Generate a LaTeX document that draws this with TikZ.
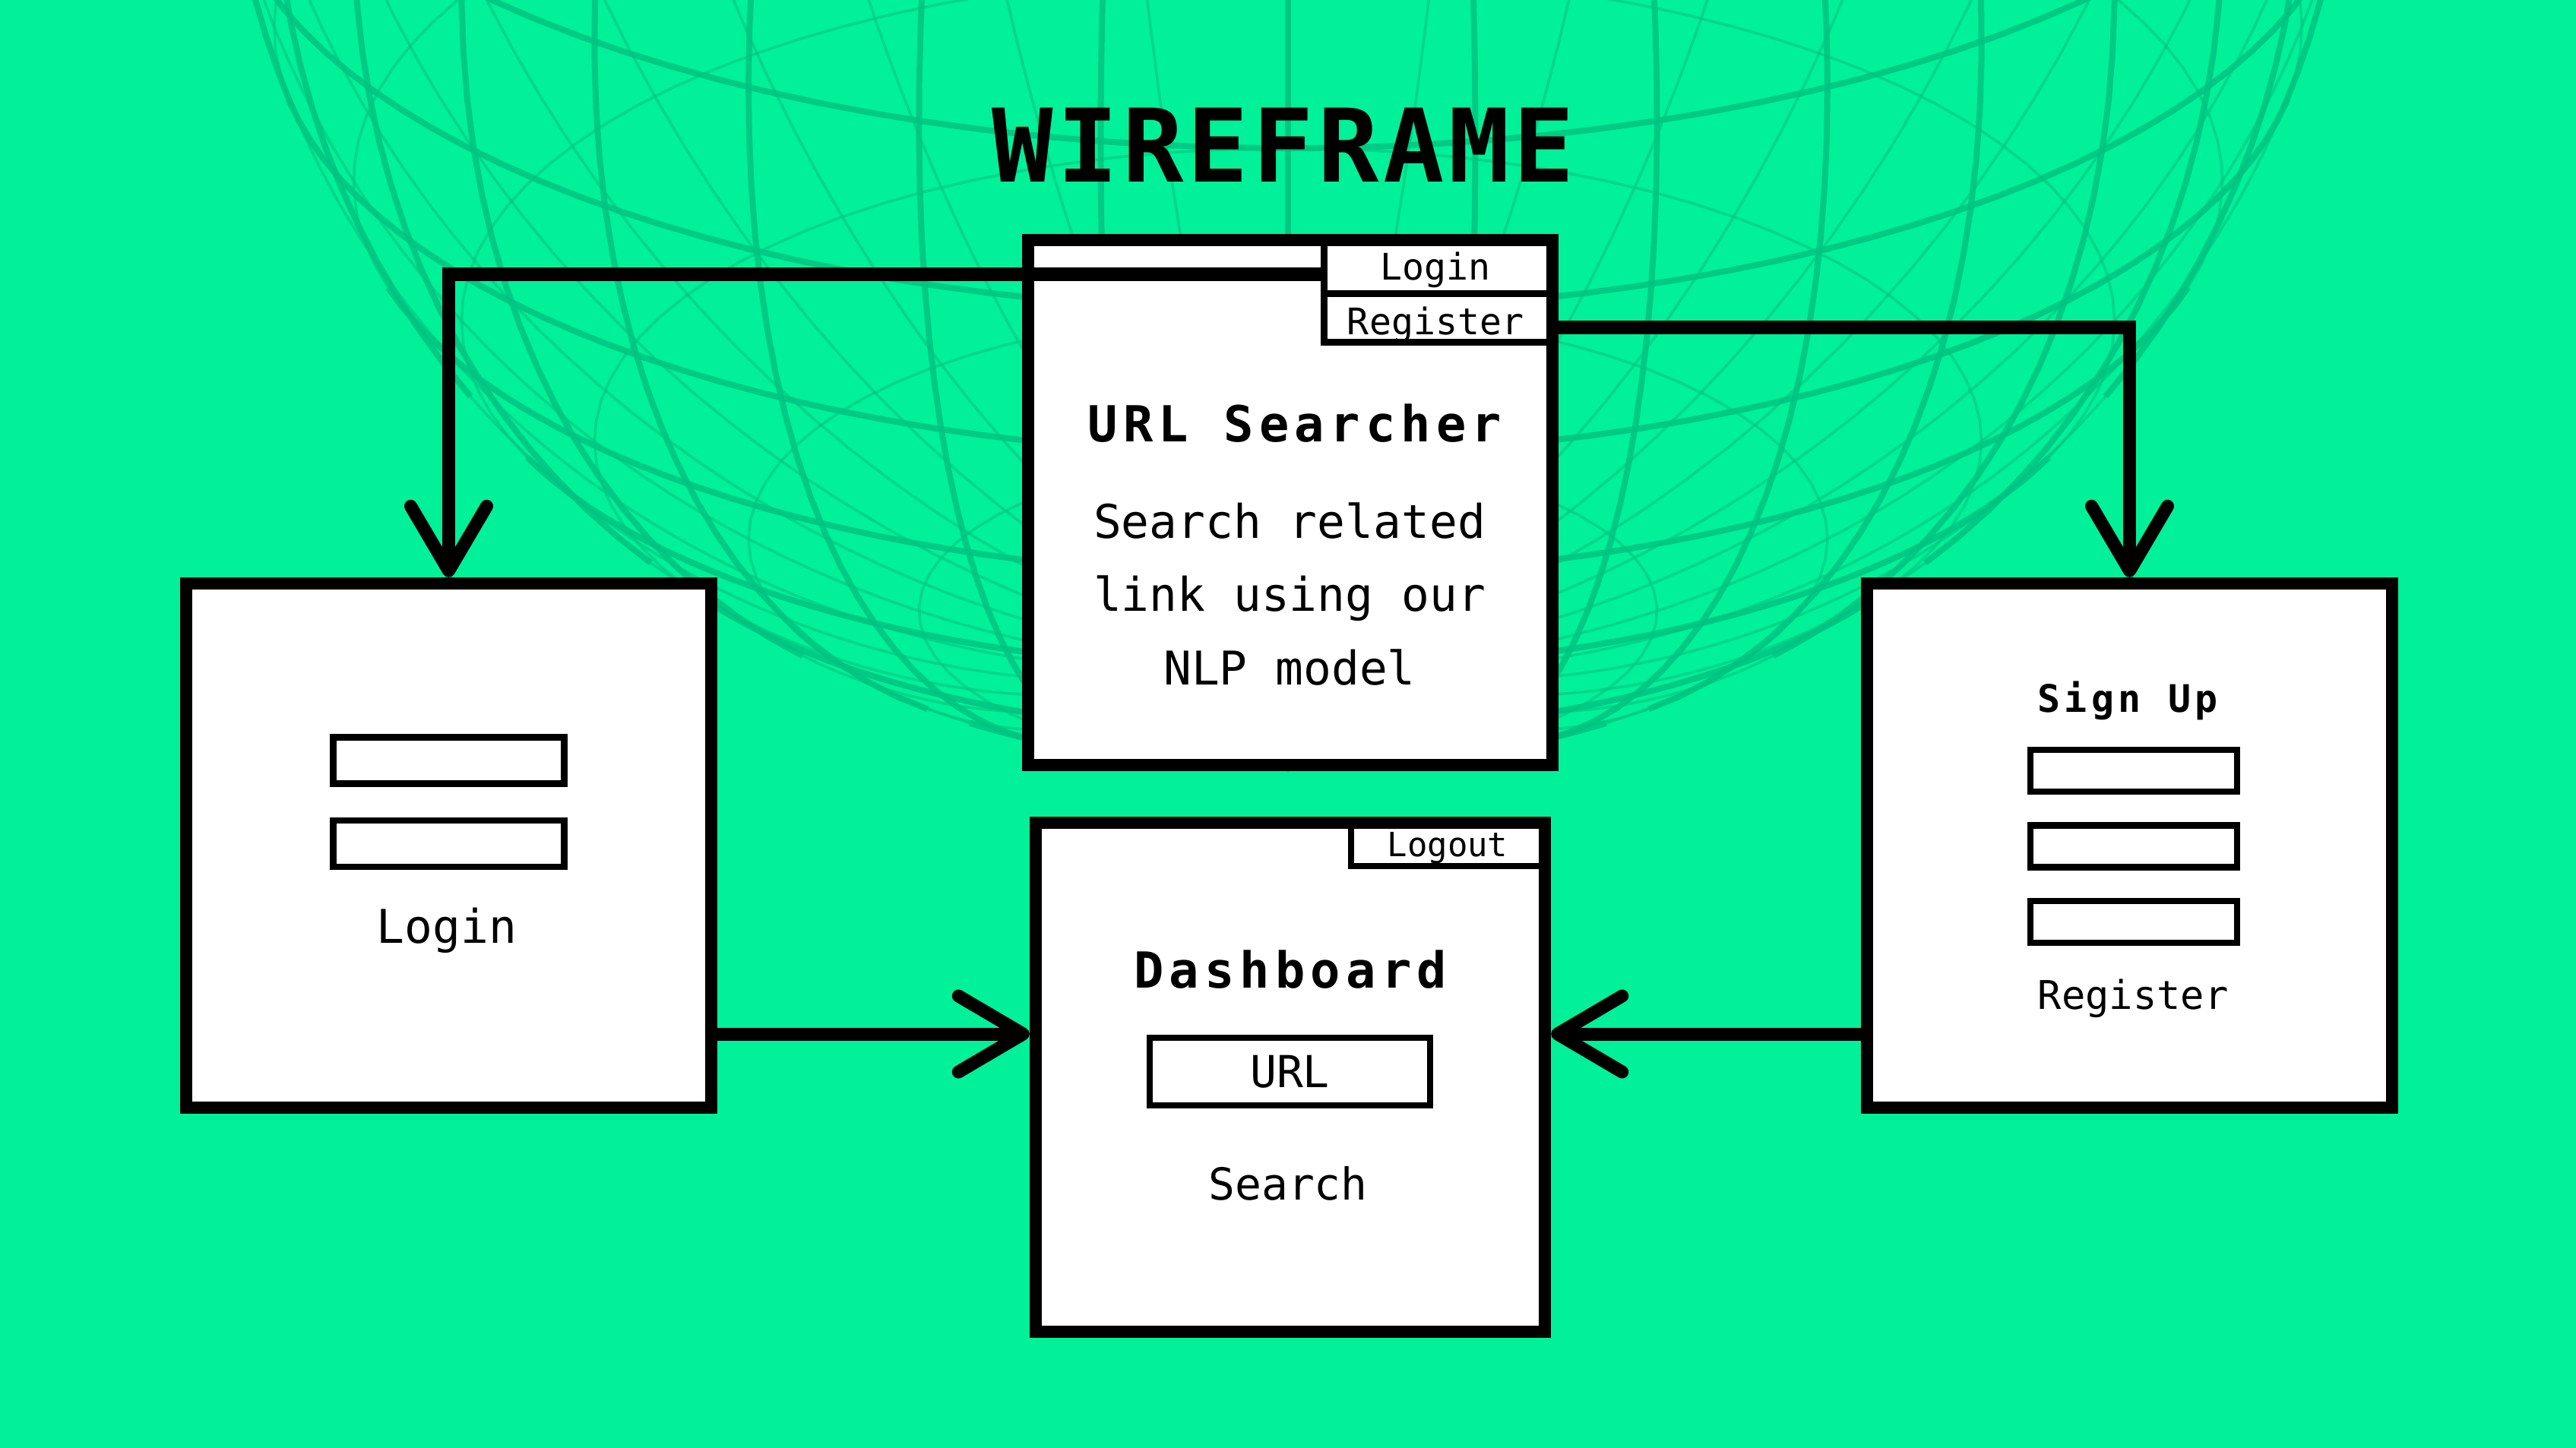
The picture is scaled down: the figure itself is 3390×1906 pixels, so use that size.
\documentclass[tikz,border=0pt]{standalone}
\usepackage{fontspec}
\setmonofont{DejaVu Sans Mono}
\newfontfamily\headfont{DejaVu Sans Mono}[LetterSpace=11]
\newfontfamily\bannerfont{DejaVu Sans Mono}[LetterSpace=4]
\usetikzlibrary{positioning, arrows.meta}
\definecolor{mint}{RGB}{0,241,153}
\definecolor{gridmint}{RGB}{0,196,128}

\begin{document}
\begin{tikzpicture}[x=0.01cm, y=-0.01cm,
    page/.style = {draw, fill=white, line width=0.16cm, inner sep=0pt, minimum width=6.9cm, minimum height=6.9cm},
    tab/.style = {draw, line width=0.09cm, inner sep=0pt},
    field/.style = {draw, fill=white, line width=0.085cm, inner sep=0pt},
    flow/.style = {line width=0.17cm, -{Straight Barb[length=0.85cm, width=1cm, round]}},
    gridfront/.style = {gridmint, line width=0.08cm, opacity=0.85},
    gridback/.style = {gridmint, line width=0.035cm, opacity=0.6},
    banner/.style = {font=\bannerfont\bfseries\fontsize{38}{40}\selectfont, anchor=base},
    heading/.style = {font=\headfont\bfseries\fontsize{18.6}{22}\selectfont, anchor=base},
    body/.style = {font=\ttfamily\fontsize{17.4}{20}\selectfont, anchor=base},
    tablabel/.style = {font=\ttfamily\fontsize{13.7}{16}\selectfont, anchor=base}]
    \useasboundingbox (0,0) rectangle (3390,1906);
    \fill[mint] (0,0) rectangle (3390,1906);

    % globe
    \begin{scope}
        \clip (0,0) rectangle (3390,1906);
        \foreach \lat in {-80,-70,...,10} {
            \pgfmathsetmacro\lz{acos(max(-1,min(1,-tan(\lat)*tan(25))))}
            \draw[gridback] plot[domain=\lz:360-\lz, samples=60] ({1695+1420*cos(\lat)*sin(\x)}, {-405-1420*(sin(\lat)*cos(25)-cos(\lat)*cos(\x)*sin(25))});
            \ifdim\lz pt>1pt
                \draw[gridfront] plot[domain=-\lz:\lz, samples=60] ({1695+1420*cos(\lat)*sin(\x)}, {-405-1420*(sin(\lat)*cos(25)-cos(\lat)*cos(\x)*sin(25))});
            \fi
        }
        \foreach \lon in {0,10,...,350} {
            \pgfmathsetmacro\pz{atan(-cos(\lon)/tan(25))}
            \draw[gridfront] plot[domain=\pz:90, samples=50] ({1695+1420*cos(\x)*sin(\lon)}, {-405-1420*(sin(\x)*cos(25)-cos(\x)*cos(\lon)*sin(25))});
            \draw[gridback] plot[domain=-90:\pz, samples=50] ({1695+1420*cos(\x)*sin(\lon)}, {-405-1420*(sin(\x)*cos(25)-cos(\x)*cos(\lon)*sin(25))});
        }
    \end{scope}

    \node[banner] (title) at (1689,239) {WIREFRAME};

    \node[page] (home) at (1698,661.5) {};
    \node[page] (loginpage) at (590.5,1113) {};
    \node[page] (signup) at (2802.5,1113) {};
    \node[page, minimum width=6.7cm, minimum height=6.7cm] (dash) at (1698,1418) {};

    % home page
    \node[tablabel] (loginlbl) at (1889,368) {Login};
    \node[tablabel] (reglbl) at (1889,440) {Register};
    \node[tab, minimum width=3.005cm, minimum height=0.695cm] (tablogin) at (1892.75,351.75) {};
    \node[tab, minimum width=3.005cm, minimum height=0.64cm] (tabreg) at (1892.75,418.5) {};
    \node[heading] (hometitle) at (1704,581) {URL Searcher};
    \foreach \t [count=\i] in {Search related, link using our, NLP model}
        \node[body] (hometxt\i) at (1697,{708+96.5*(\i-1)}) {\t};

    % login page
    \node[field, minimum width=3.04cm, minimum height=0.61cm] (lf1) at (590.5,1001) {};
    \node[field, minimum width=3.04cm, minimum height=0.61cm] (lf2) [below=0.4cm of lf1] {};
    \node[body] (loginbtn) at (588,1241) {Login};

    % sign up page
    \node[font=\headfont\bfseries\fontsize{14.2}{17}\selectfont, anchor=base] (signtitle) at (2800,937) {Sign Up};
    \node[field, minimum width=2.72cm, minimum height=0.55cm] (rf1) at (2808,1014.5) {};
    \node[field, minimum width=2.72cm, minimum height=0.55cm] (rf2) [below=0.36cm of rf1] {};
    \node[field, minimum width=2.72cm, minimum height=0.55cm] (rf3) [below=0.36cm of rf2] {};
    \node[body, font=\ttfamily\fontsize{14.8}{17}\selectfont] (regbtn) at (2807,1328) {Register};

    % dashboard
    \node[tablabel, font=\ttfamily\fontsize{12.5}{15}\selectfont] (logoutlbl) at (1905,1127) {Logout};
    \node[tab, line width=0.08cm, minimum width=2.55cm, minimum height=0.57cm] (tablogout) at (1905.5,1111.5) {};
    \node[heading] (dashtitle) at (1698,1300) {Dashboard};
    \node[field, line width=0.08cm, minimum width=3.69cm, minimum height=0.89cm, font=\ttfamily\fontsize{16.5}{19}\selectfont] (urlbox) at (1697.5,1410.5) {URL};
    \node[body, font=\ttfamily\fontsize{16.5}{19}\selectfont] (searchbtn) at (1695,1579) {Search};

    % flows
    \coordinate (lrow) at (1740,361);
    \coordinate (rrow) at (2045,431);
    \coordinate (brow) at (0,1361);
    \draw[flow] (lrow) -| (loginpage.north);
    \draw[flow] (rrow) -| (signup.north);
    \draw[flow] (loginpage.east |- brow) -- (dash.west |- brow);
    \draw[flow] (signup.west |- brow) -- (dash.east |- brow);
\end{tikzpicture}
\end{document}
